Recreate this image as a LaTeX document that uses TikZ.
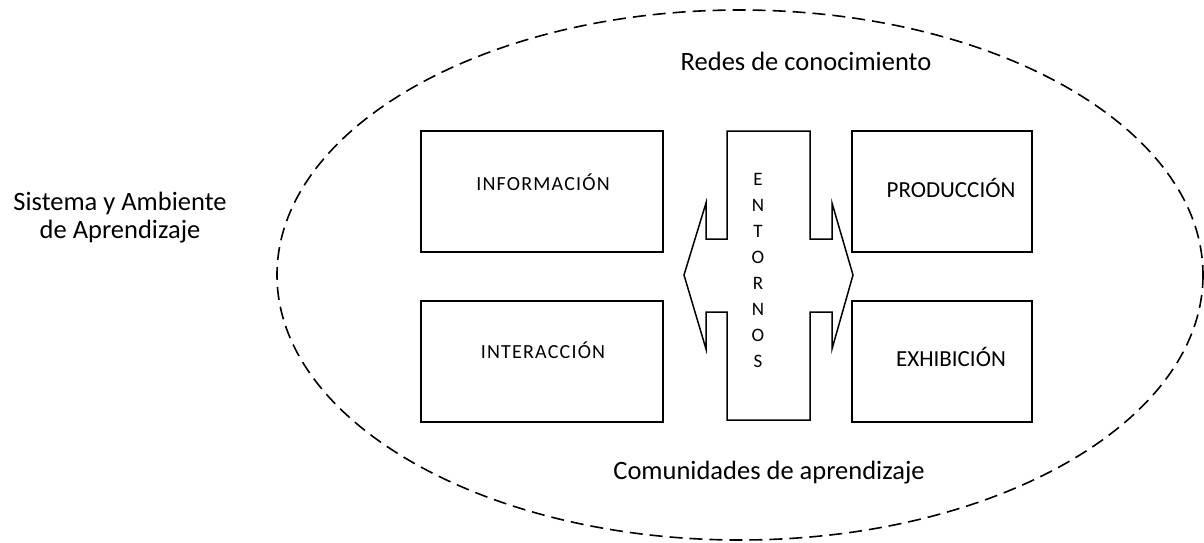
\documentclass[tikz,border=0pt]{standalone}
\usepackage{fontspec}
\setmainfont{Carlito}
\newfontfamily\capfont{Carlito}[LetterSpace=6]
\begin{document}
\begin{tikzpicture}[x=1pt,y=-1pt,
  box/.style={draw,line width=1.5pt},
  lbl/.style={font=\fontsize{26.5}{29}\selectfont,anchor=base},
  small/.style={font=\capfont\fontsize{20}{22}\selectfont,anchor=base},
  big/.style={font=\fontsize{23}{26}\selectfont,anchor=base},
  let/.style={font=\fontsize{19}{20}\selectfont,anchor=base}]
\useasboundingbox (0,0) rectangle (1204,542);
\draw[line width=1.6pt,dash pattern=on 13pt off 7pt] (740,275) ellipse [x radius=463, y radius=265];
\node[lbl] (redes) at (806,70) {Redes de conocimiento};
\node[lbl] (comun) at (769,479) {Comunidades de aprendizaje};
\node[lbl] (sist1) at (120,210) {Sistema y Ambiente};
\node[lbl] (sist2) at (120,238) {de Aprendizaje};
\draw[box] (421,131) rectangle (663,252);
\draw[box] (421,301) rectangle (663,422);
\draw[box] (852,131) rectangle (1032,252);
\draw[box] (852,301) rectangle (1032,422);
\node[small] (info) at (543,190) {INFORMACIÓN};
\node[small] (inter) at (543,358) {INTERACCIÓN};
\node[big] (prod) at (951,197) {PRODUCCIÓN};
\node[big] (exhi) at (951,366) {EXHIBICIÓN};
\draw[box] (727,131) -- (810,131) -- (810,239) -- (832,239) -- (832,203) -- (853,275)
  -- (832,349) -- (832,312) -- (810,312) -- (810,420) -- (727,420) -- (727,312) -- (706,312)
  -- (706,349) -- (684,275) -- (706,203) -- (706,239) -- (727,239) -- cycle;
\foreach \l [count=\i from 0] in {E,N,T,O,R,N,O,S}
  \node[let] (ent\i) at (758,185+26*\i) {\l};
\end{tikzpicture}
\end{document}
